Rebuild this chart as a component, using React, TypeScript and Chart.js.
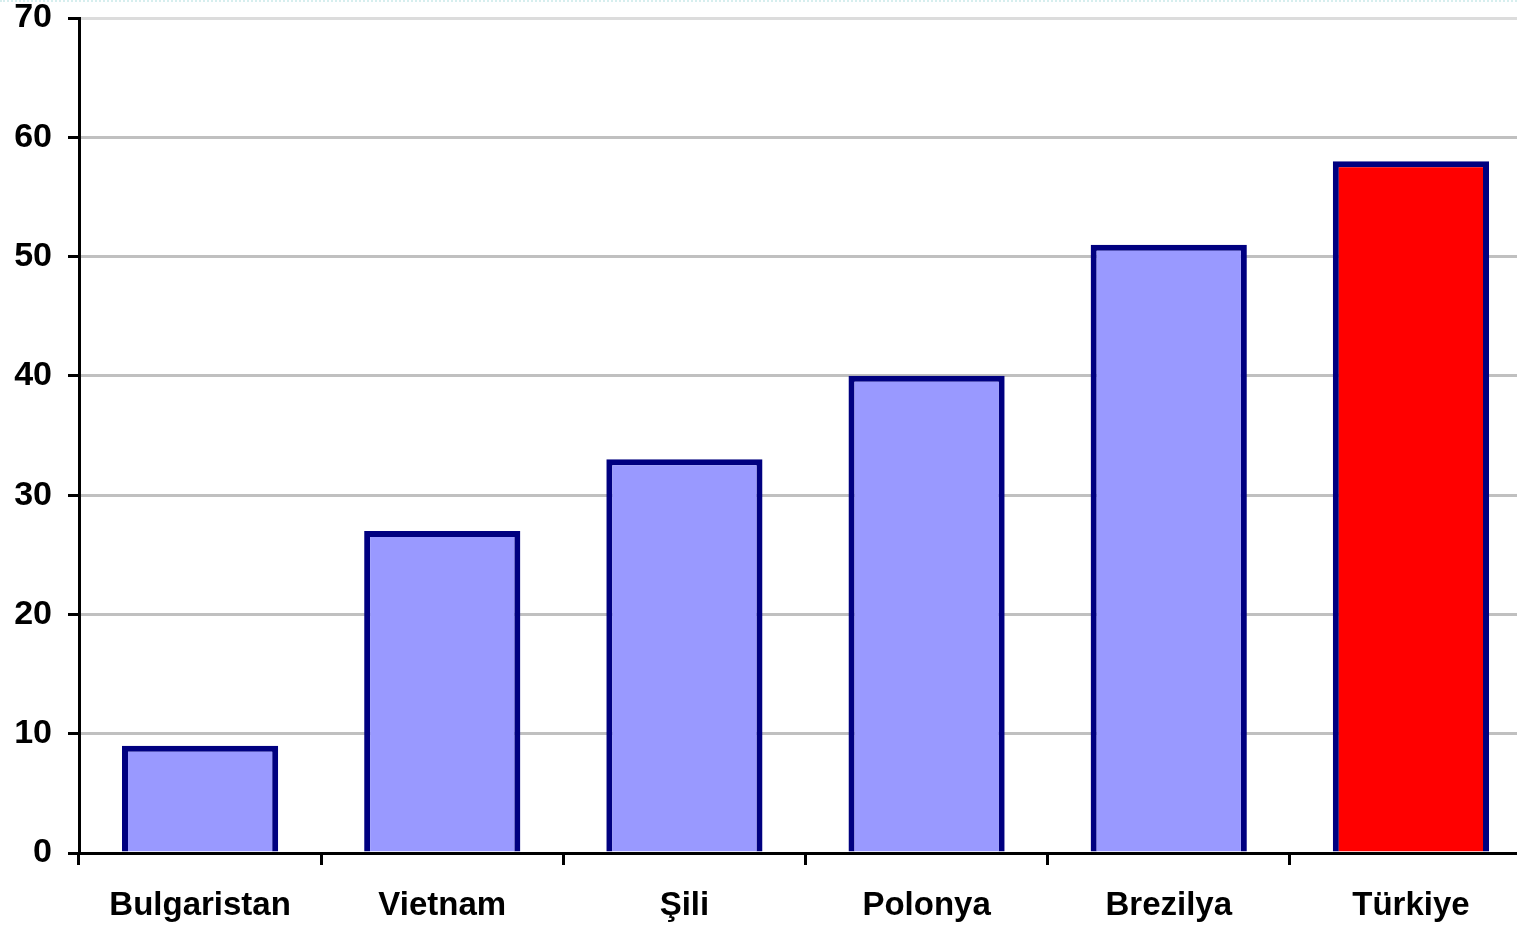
import React, { useEffect, useRef } from "react";
import { Chart, registerables } from "chart.js";

Chart.register(...registerables);

const categories = ["Bulgaristan", "Vietnam", "Şili", "Polonya", "Brezilya", "Türkiye"];
const values = [9, 27, 33, 40, 51, 58];
const barColors = ["#9999FF", "#9999FF", "#9999FF", "#9999FF", "#9999FF", "#FF0000"];
const yTicks = [0, 10, 20, 30, 40, 50, 60, 70];

export default function App() {
  const ref = useRef<HTMLCanvasElement | null>(null);

  useEffect(() => {
    if (!ref.current) return;
    const family = "'Liberation Sans', Arial, sans-serif";
    const chart = new Chart(ref.current, {
      type: "bar",
      data: {
        labels: categories,
        datasets: [
          {
            data: values,
            backgroundColor: barColors,
            borderColor: "#000080",
            borderWidth: 6,
            borderSkipped: "start",
            categoryPercentage: 1,
            barPercentage: 0.645,
          },
        ],
      },
      options: {
        animation: false,
        responsive: false,
        maintainAspectRatio: false,
        layout: { padding: { top: 16, left: 0, right: 0, bottom: 0 } },
        plugins: { legend: { display: false }, tooltip: { enabled: false } },
        scales: {
          x: {
            offset: true,
            grid: {
              display: true,
              offset: true,
              drawOnChartArea: false,
              drawTicks: true,
              tickLength: 12,
              tickColor: "#000000",
              tickWidth: 3,
              color: "#000000",
              lineWidth: 3,
            },
            border: { display: true, color: "#000000", width: 3 },
            ticks: { color: "#000000", font: { family, size: 33, weight: "bold" }, padding: 21, maxRotation: 0 },
            afterFit: (scale: any) => {
              scale.height = 72;
              scale.paddingLeft = 0;
              scale.paddingRight = 0;
            },
          },
          y: {
            min: 0,
            max: 70,
            afterBuildTicks: (scale: any) => {
              scale.ticks = yTicks.map((v) => ({ value: v }));
            },
            grid: {
              color: (ctx: any) => (ctx.tick && ctx.tick.value === 70 ? "#dcdcdc" : "#c0c0c0"),
              lineWidth: 3,
              drawTicks: true,
              tickLength: 11,
              tickColor: "#000000",
              tickWidth: 3,
            },
            border: { display: true, color: "#000000", width: 3 },
            ticks: { color: "#000000", font: { family, size: 34, weight: "bold" }, padding: 16 },
            afterFit: (scale: any) => {
              scale.width = 79;
              scale.paddingTop = 0;
              scale.paddingBottom = 0;
            },
          },
        },
      },
    });
    return () => chart.destroy();
  }, []);

  return (
    <div
      style={{
        position: "fixed",
        left: 0,
        top: 0,
        width: 1517,
        height: 925,
        overflow: "hidden",
        background: "#ffffff",
        borderTop: "2px dotted #d6eeee",
        boxSizing: "border-box",
      }}
    >
      <canvas ref={ref} width={1532} height={923} style={{ display: "block" }} />
    </div>
  );
}
